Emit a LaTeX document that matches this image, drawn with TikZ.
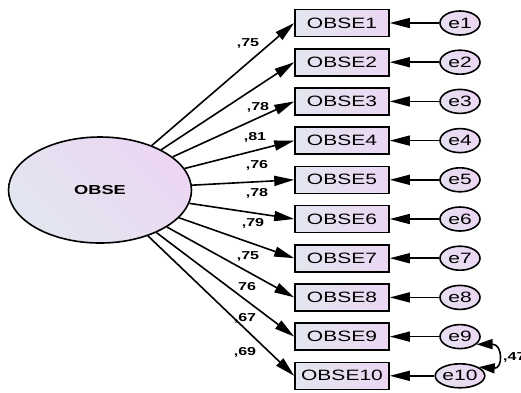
\documentclass[tikz,border=0pt]{standalone}
\usepackage{fontspec}
\setmainfont{Liberation Sans}
\usetikzlibrary{shapes.geometric,arrows.meta}
\definecolor{cl}{RGB}{226,230,240}
\definecolor{cr}{RGB}{236,214,242}
\newcommand{\wx}[1]{\scalebox{1.4}[1]{#1}}
\begin{document}
\begin{tikzpicture}[x=1pt,y=-1pt,
  obsbox/.style={draw,line width=1.6pt,rectangle,minimum width=94pt,minimum height=27pt,inner sep=0pt,left color=cl,right color=cr,font=\fontsize{15}{18}\selectfont},
  errnode/.style={draw,line width=1.6pt,ellipse,minimum width=40pt,minimum height=24pt,inner sep=0pt,shading=axis,left color=cl!60!cr,right color=cr,shading angle=135,font=\fontsize{15}{18}\selectfont},
  latent/.style={draw,line width=1.6pt,ellipse,minimum width=183pt,minimum height=106pt,inner sep=0pt,shading=axis,left color=cl,right color=cr,shading angle=135,font=\bfseries\fontsize{13}{15}\selectfont},
  ldarrow/.style={line width=1.6pt,-{Triangle[length=20pt,width=10pt]}},
  lbl/.style={font=\bfseries\fontsize{11.5}{13}\selectfont,inner sep=0pt}]
\useasboundingbox (0,0) rectangle (521,392);
\node[latent] (F) at (100,190) {\wx{OBSE}};
\foreach \i in {1,...,10}{
  \pgfmathsetmacro{\yy}{23+39.2*(\i-1)}
  \node[obsbox] (o\i) at (342,\yy) {\wx{OBSE\i}};
  \node[errnode] (e\i) at (460,\yy) {\wx{e\i}};
  \draw[ldarrow] (e\i) -- (o\i.east);
  \draw[ldarrow] (F) -- (o\i.west);
}
\node[lbl] (l1) at (248,43) {\wx{,75}};
\node[lbl] (l3) at (258,107) {\wx{,78}};
\node[lbl] (l4) at (255,137) {\wx{,81}};
\node[lbl] (l5) at (257,165) {\wx{,76}};
\node[lbl] (l6) at (257,193) {\wx{,78}};
\node[lbl] (l7) at (253,223) {\wx{,79}};
\node[lbl] (l8) at (248,256) {\wx{,75}};
\node[lbl] (l9) at (247,287) {\wx{76}};
\node[lbl] (l10) at (245,318) {\wx{,67}};
\node[lbl] (l11) at (245,352) {\wx{,69}};
\draw[line width=1.6pt,{Triangle[length=16pt,width=10pt]}-{Triangle[length=16pt,width=10pt]}] (e9.-25) .. controls (503,344) and (503,369) .. (e10.25);
\node[lbl,anchor=west] (cv) at (503,357) {\wx{,47}};
\end{tikzpicture}
\end{document}
